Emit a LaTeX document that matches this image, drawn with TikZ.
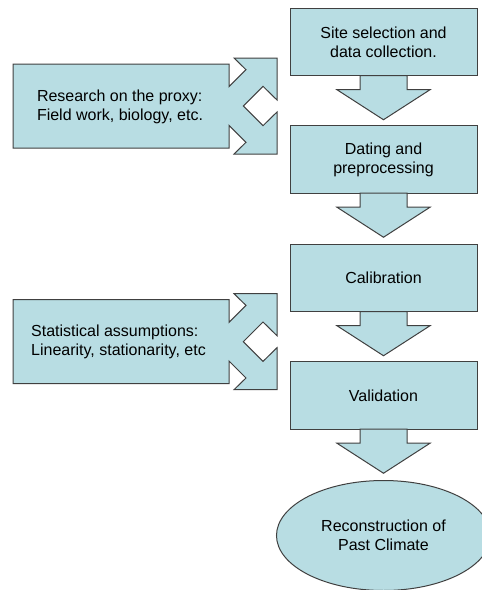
\documentclass[tikz,border=0pt]{standalone}
\usepackage{fontspec}
\setmainfont{Liberation Sans}
\usetikzlibrary{shapes.geometric}

\definecolor{boxfill}{RGB}{184,221,227}
\definecolor{boxline}{RGB}{64,64,64}

\tikzset{every picture/.style={line width=0.75pt}}
\tikzset{
	flowtext/.style={font=\fontsize{12}{14.25}\selectfont},
	stagebox/.style={flowtext, draw=boxline, fill=boxfill, align=center, inner sep=0pt, outer sep=0pt, minimum width=140.25pt, minimum height=50.6pt},
	endstage/.style={flowtext, ellipse, draw=boxline, fill=boxfill, align=center, inner sep=0pt, outer sep=0pt, minimum width=160.5pt, minimum height=82.5pt},
	sidetext/.style={flowtext, align=left, inner sep=0pt},
	blockarrow/.style={draw=boxline, fill=boxfill, line join=miter},
	%pics keep the unit vectors but not yscale=-1, so y points up in here
	pics/stagearrow/.style={code={
		\draw[blockarrow] (-23.5,0) -- (-23.5,-14) -- (-46.5,-14) -- (0,-44) -- (46.5,-14) -- (23.5,-14) -- (23.5,0) -- cycle ;
	}},
	pics/splitarrow/.style={code={
		\draw[blockarrow] (-108,42) -- (108,42) -- (108,19.3) -- (125,36.3) -- (113,48) -- (156,48) -- (156,6) -- (142,19.7) -- (122.3,0) -- (142,-19.7) -- (156,-6) -- (156,-48) -- (113,-48) -- (125,-36.3) -- (108,-19.3) -- (108,-42) -- (-108,-42) -- cycle ;
	}}
}

\begin{document}
\begin{tikzpicture}[x=0.75pt,y=0.75pt,yscale=-1,xscale=1]
	\useasboundingbox (0,0) rectangle (482,590);

	%Side inputs
	\pic at (121,106) {splitarrow};
	\pic at (121,341.7) {splitarrow};

	%Stages
	\node[stagebox] (site) at (383.5,42) {Site selection and\\data collection.};
	\node[stagebox] (dating) at (383.5,159.5) {Dating and\\preprocessing};
	\node[stagebox] (calib) at (383.5,278) {Calibration};
	\node[stagebox] (valid) at (383.5,395.5) {Validation};
	\node[endstage] (climate) at (383.5,535.5) {Reconstruction of\\Past Climate};

	%Arrows between stages
	\path (site.south) pic {stagearrow};
	\path (dating.south) pic {stagearrow};
	\path (calib.south) pic {stagearrow};
	\path (valid.south) pic {stagearrow};

	% Text Node
	\node[sidetext] (research) at (120,106.5) {Research on the proxy:\\Field work, biology, etc.};
	% Text Node
	\node[sidetext] (stats) at (118.5,342) {Statistical assumptions:\\Linearity, stationarity, etc};

\end{tikzpicture}
\end{document}
